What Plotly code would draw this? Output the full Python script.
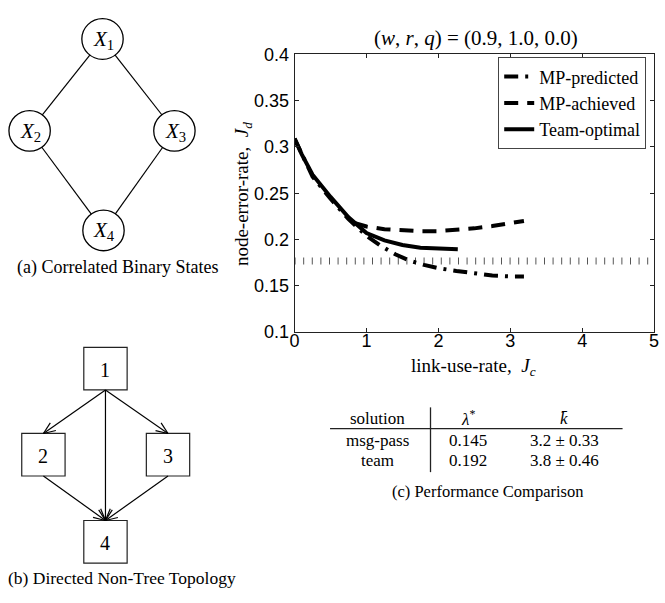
import numpy as np
import plotly.graph_objects as go

W, H = 665, 603

# ---------------- data ----------------
jc_team = [0.0, 0.1, 0.25, 0.5, 0.75, 1.0, 1.25, 1.5, 1.75, 2.0, 2.27]
jd_team = [0.309, 0.292, 0.270, 0.246, 0.224, 0.207, 0.199, 0.194, 0.191, 0.190, 0.1895]

jc_pred = [0.0, 0.25, 0.5, 0.75, 1.0, 1.2, 1.4, 1.6, 1.8, 2.0, 2.25, 2.5, 2.75, 3.0, 3.19]
jd_pred = [0.309, 0.268, 0.244, 0.222, 0.204, 0.193, 0.184, 0.177, 0.1725, 0.169, 0.166, 0.1635, 0.161, 0.160, 0.160]

jc_ach = [0.83, 1.0, 1.25, 1.5, 1.75, 2.0, 2.25, 2.5, 2.75, 3.0, 3.19]
jd_ach = [0.218, 0.214, 0.211, 0.2095, 0.209, 0.209, 0.210, 0.212, 0.2145, 0.2175, 0.220]

bound_jc = [0.0, 5.0]
bound_jd = [0.1768, 0.1768]

x_ticks = [0, 1, 2, 3, 4, 5]
y_ticks = [0.1, 0.15, 0.2, 0.25, 0.3, 0.35, 0.4]
y_tick_labels = ["0.1", "0.15", "0.2", "0.25", "0.3", "0.35", "0.4"]

# diagram (a)
a_labels = ["<i>X</i><sub>1</sub>", "<i>X</i><sub>2</sub>", "<i>X</i><sub>3</sub>", "<i>X</i><sub>4</sub>"]
a_edges = [(0, 1), (0, 2), (1, 3), (2, 3)]
# diagram (b)
b_labels = ["1", "2", "3", "4"]
b_edges = [(0, 1), (0, 3), (0, 2), (1, 3), (2, 3)]

# table (c)
tbl_header = ["solution", "<i>λ</i><sup>*</sup>", "<i>k̄</i>"]
tbl_rows = [["msg-pass", "0.145", "3.2 ± 0.33"],
            ["team", "0.192", "3.8 ± 0.46"]]

# ---------------- layout helpers (pixel -> paper) ----------------
def px(x):
    return x / W

def py(y):
    return 1 - y / H

SERIF = "Liberation Serif"
SANS = "Liberation Sans"

fig = go.Figure()

fig.add_trace(go.Scatter(x=bound_jc, y=bound_jd, mode="lines", showlegend=False,
                         line=dict(color="#555", width=7, dash="1px,7.6px")))
fig.add_trace(go.Scatter(x=jc_pred, y=jd_pred, mode="lines", name="MP-predicted",
                         line=dict(color="black", width=4, dash="14px,7px,3px,7px")))
fig.add_trace(go.Scatter(x=jc_ach, y=jd_ach, mode="lines", name="MP-achieved",
                         line=dict(color="black", width=4, dash="14px,9px")))
fig.add_trace(go.Scatter(x=jc_team, y=jd_team, mode="lines", name="Team-optimal",
                         line=dict(color="black", width=4)))

x0p, x1p, y0p, y1p = 294, 659, 46, 333
axis_common = dict(showline=True, linecolor="#222", linewidth=1, mirror="ticks",
                   ticks="inside", ticklen=4, tickcolor="#222", showgrid=False,
                   zeroline=False, ticklabeloverflow="allow",
                   tickfont=dict(family=SANS, size=18, color="black"))
fig.update_layout(
    width=W, height=H, margin=dict(l=0, r=0, t=0, b=0),
    plot_bgcolor="white", paper_bgcolor="white",
    xaxis=dict(domain=[px(x0p), px(x1p)], range=[0, 5], tickvals=x_ticks,
               ticklabelstandoff=-8, **axis_common),
    yaxis=dict(domain=[py(y1p), py(y0p)], range=[0.1, 0.4], tickvals=y_ticks,
               ticktext=y_tick_labels, ticklabelstandoff=1, **axis_common),
    legend=dict(x=px(651), y=py(49), xanchor="right", yanchor="top",
                bordercolor="#444", borderwidth=1, bgcolor="white",
                font=dict(family=SERIF, size=18, color="black"),
                tracegroupgap=0, itemwidth=30),
    showlegend=True,
)

ann = []
shapes = []

def text(x, y, s, size=18, family=SERIF, angle=0, xanchor="center"):
    ann.append(dict(x=px(x), y=py(y), xref="paper", yref="paper", text=s,
                    showarrow=False, xanchor=xanchor, yanchor="middle", textangle=angle,
                    font=dict(family=family, size=size, color="black")))

def line(xa, ya, xb, yb, color="black", width=1.2):
    shapes.append(dict(type="line", xref="paper", yref="paper",
                       x0=px(xa), y0=py(ya), x1=px(xb), y1=py(yb),
                       line=dict(color=color, width=width)))

# chart texts
text(478, 29, "(<i>w</i>, <i>r</i>, <i>q</i>) = (0.9, 1.0, 0.0)", size=21)
text(476, 369, "link-use-rate,  <i>J<sub>c</sub></i>", size=19)
text(241, 190, "node-error-rate,  <i>J<sub>d</sub></i>", size=19, angle=-90)

# ---- diagram (a)
a_centers = [(99, 30), (25, 125), (172, 125), (100, 228)]
r = 21
for (cx, cy), lab in zip(a_centers, a_labels):
    shapes.append(dict(type="circle", xref="paper", yref="paper",
                       x0=px(cx - r), x1=px(cx + r), y0=py(cy - r), y1=py(cy + r),
                       line=dict(color="black", width=1.3)))
    text(cx + 1, cy + 1, lab, size=21)
for i, j in a_edges:
    (xa, ya), (xb, yb) = a_centers[i], a_centers[j]
    d = np.hypot(xb - xa, yb - ya)
    ux, uy = (xb - xa) / d, (yb - ya) / d
    line(xa + ux * r, ya + uy * r, xb - ux * r, yb - uy * r)
text(114, 266, "(a) Correlated Binary States", size=18)

# ---- diagram (b)
b_centers = [(102, 371), (39, 460), (165.5, 460), (102, 550)]
hs = 22
for (cx, cy), lab in zip(b_centers, b_labels):
    shapes.append(dict(type="rect", xref="paper", yref="paper",
                       x0=px(cx - hs), x1=px(cx + hs), y0=py(cy - hs), y1=py(cy + hs),
                       line=dict(color="#222", width=1.2)))
    text(cx, cy + 1, lab, size=20)
for i, j in b_edges:
    (xa, ya), (xb, yb) = b_centers[i], b_centers[j]
    sx, sy = xa, ya + hs
    ex, ey = xb, yb - hs
    line(sx, sy, ex, ey)
    ang = np.arctan2(ey - sy, ex - sx)
    L, half = 13, np.deg2rad(22)
    for s in (-1, 1):
        line(ex, ey, ex - L * np.cos(ang + s * half), ey - L * np.sin(ang + s * half))
text(119, 588, "(b) Directed Non-Tree Topology", size=17.5)

# ---- table (c)
col_x = [378, 470, 568]
row_y = [422, 445, 466]
for cx, s in zip(col_x, tbl_header):
    text(cx, row_y[0], s, size=17)
for ry, row in zip(row_y[1:], tbl_rows):
    for cx, s in zip(col_x, row):
        text(cx, ry, s, size=17)
line(330, 433, 627, 433, color="#222", width=1.3)
line(432, 411, 432, 478, color="#222", width=1.3)
text(490, 498, "(c) Performance Comparison", size=16.5)

fig.update_layout(annotations=ann, shapes=shapes)
fig.write_html("out.html", config={"displayModeBar": False},
               post_script="document.body.style.margin='0px';")
